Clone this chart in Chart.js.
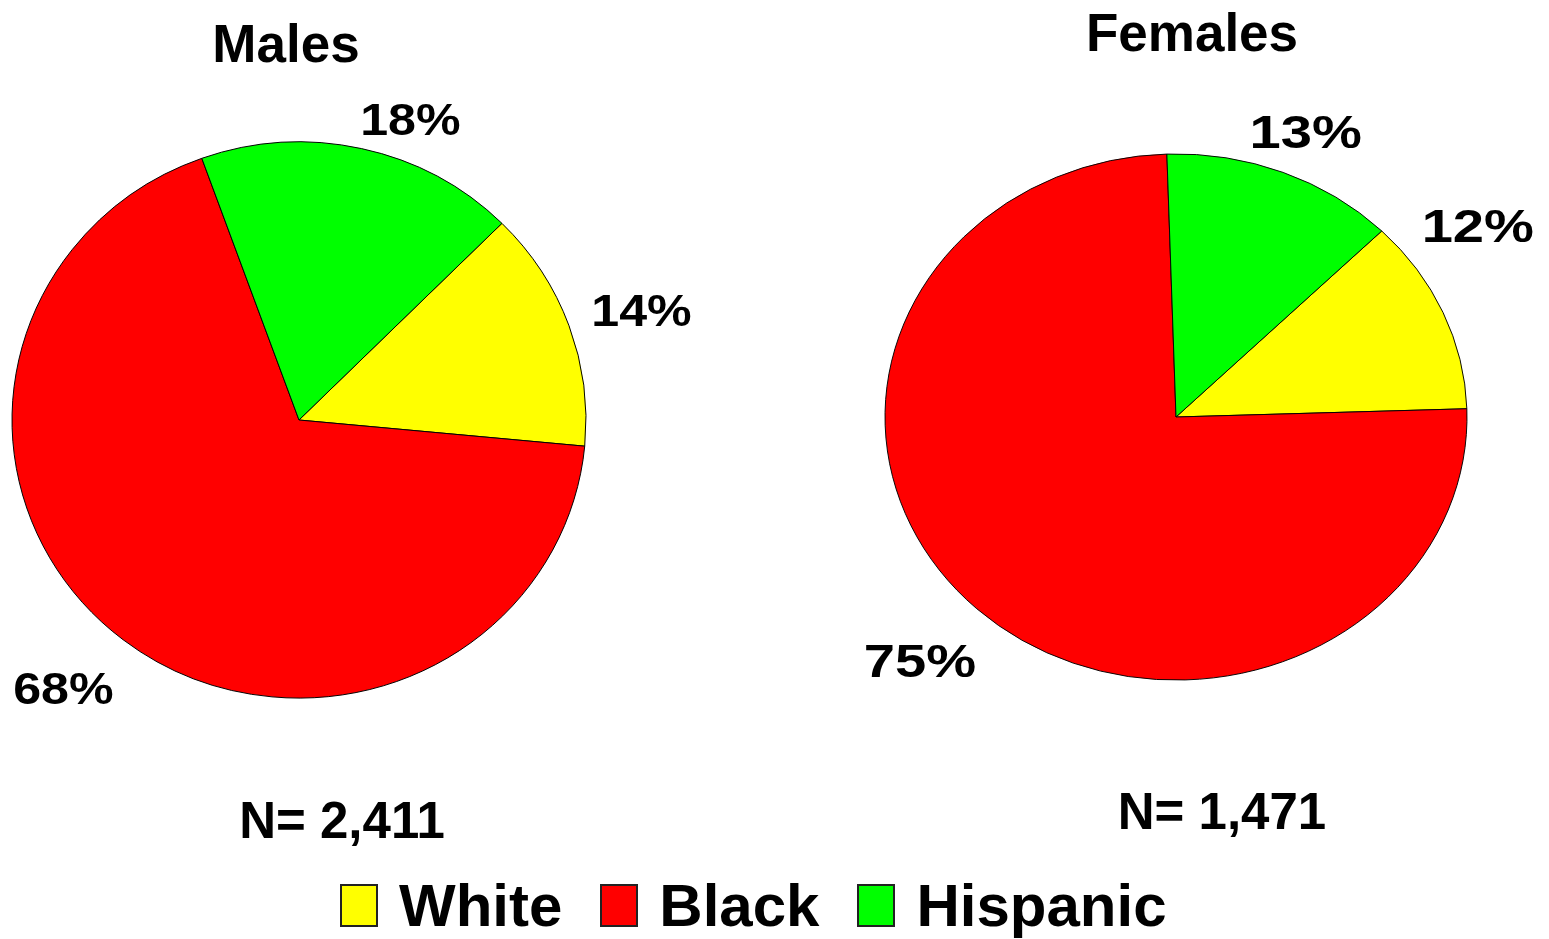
<!DOCTYPE html>
<html>
<head>
<meta charset="utf-8">
<script src="https://cdn.jsdelivr.net/npm/chart.js@4.4.1/dist/chart.umd.min.js"></script>
<style>
  html, body { margin: 0; padding: 0; background: #fff; }
  body { width: 1549px; height: 939px; position: relative; overflow: hidden;
         font-family: "Liberation Sans", Arial, sans-serif; font-weight: bold; color: #000; }
  .wrap { position: absolute; top: 0; height: 939px; }
  .txt { position: absolute; white-space: nowrap; transform: translateX(-50%); }
  #legend { position: absolute; left: 340px; top: 884px; display: flex; align-items: center; }
  .item { display: flex; align-items: center; margin-right: 38px; }
  .box { width: 34px; height: 39px; border: 2px solid #222; margin-right: 21px; }
  .lab { font-size: 60px; line-height: 43px; }
</style>
</head>
<body>
<div class="wrap" id="w0" style="left:0;width:775px"><canvas id="c0"></canvas></div>
<div class="wrap" id="w1" style="left:775px;width:774px"><canvas id="c1"></canvas></div>

<div class="txt" id="t0" style="left:286px;top:17px;font-size:53px;line-height:53px"></div>
<div class="txt" id="t1" style="left:1192px;top:6px;font-size:53px;line-height:53px"></div>
<div class="txt" id="n0" style="left:342px;top:795px;font-size:51px;line-height:51px"></div>
<div class="txt" id="n1" style="left:1222px;top:786px;font-size:51px;line-height:51px"></div>
<div id="legend"></div>

<script>
// ---- data ----
const categories = ['White', 'Black', 'Hispanic'];
const colors = ['#FFFF00', '#FF0000', '#00FF00'];
const groups = ['Males', 'Females'];
const malesPct = [14, 68, 18];
const femalesPct = [12, 75, 13];
const sampleSizes = [2411, 1471];

// ---- layout (not data) ----
const layouts = [
  { radius: 287, scaleY: 0.969, rotation: 45, padding: {left: 0, right: 177, top: 0, bottom: 99},
    font: 44, stretch: 1.14, nudge: [[13, 5], [-21, 0], [35, 30]] },
  { radius: 291, scaleY: 0.904, rotation: 45, padding: {left: 28, right: 0, top: 0, bottom: 105},
    font: 46, stretch: 1.22, nudge: [[-24, -64], [-13, 10], [-1, 13]] }
];
const LABEL_K = 1.22;

const ellipsePlugin = {
  id: 'ellipse',
  beforeDatasetsDraw(chart) {
    const L = chart.options.plugins.ellipse;
    const a = chart.chartArea;
    const cx = (a.left + a.right) / 2, cy = (a.top + a.bottom) / 2;
    const ctx = chart.ctx;
    ctx.save();
    ctx.translate(cx, cy);
    ctx.scale(1, L.scaleY);
    ctx.translate(-cx, -cy);
  },
  afterDatasetsDraw(chart) {
    const ctx = chart.ctx;
    ctx.restore();
    const L = chart.options.plugins.ellipse;
    const meta = chart.getDatasetMeta(0);
    const data = chart.data.datasets[0].data;
    meta.data.forEach((arc, i) => {
      const p = arc.getProps(['x', 'y', 'startAngle', 'endAngle', 'outerRadius'], true);
      const mid = (p.startAngle + p.endAngle) / 2;
      const x = p.x + Math.cos(mid) * p.outerRadius * LABEL_K + L.nudge[i][0];
      const y = p.y + Math.sin(mid) * p.outerRadius * L.scaleY * LABEL_K + L.nudge[i][1];
      ctx.save();
      ctx.font = 'bold ' + L.font + 'px "Liberation Sans", Arial, sans-serif';
      ctx.fillStyle = '#000';
      ctx.textAlign = 'center';
      ctx.textBaseline = 'alphabetic';
      ctx.translate(x, y + 0.358 * L.font);
      ctx.scale(L.stretch, 1);
      ctx.fillText(data[i] + '%', 0, 0);
      ctx.restore();
    });
  }
};

[malesPct, femalesPct].forEach((vals, gi) => {
  const L = layouts[gi];
  new Chart(document.getElementById('c' + gi), {
    type: 'pie',
    data: {
      labels: categories,
      datasets: [{ data: vals, backgroundColor: colors, borderColor: '#000', borderWidth: 1 }]
    },
    options: {
      responsive: true,
      maintainAspectRatio: false,
      animation: false,
      rotation: L.rotation,
      radius: L.radius,
      layout: { padding: L.padding },
      events: [],
      plugins: {
        legend: { display: false },
        tooltip: { enabled: false },
        ellipse: { scaleY: L.scaleY, font: L.font, stretch: L.stretch, nudge: L.nudge }
      },
      elements: { arc: { borderAlign: 'center' } }
    },
    plugins: [ellipsePlugin]
  });
  document.getElementById('t' + gi).textContent = groups[gi];
  document.getElementById('n' + gi).textContent = 'N= ' + sampleSizes[gi].toLocaleString('en-US');
});

const leg = document.getElementById('legend');
categories.forEach((c, i) => {
  const it = document.createElement('div'); it.className = 'item';
  const b = document.createElement('div'); b.className = 'box'; b.style.background = colors[i];
  const t = document.createElement('div'); t.className = 'lab'; t.textContent = c;
  it.appendChild(b); it.appendChild(t); leg.appendChild(it);
});
</script>
</body>
</html>
